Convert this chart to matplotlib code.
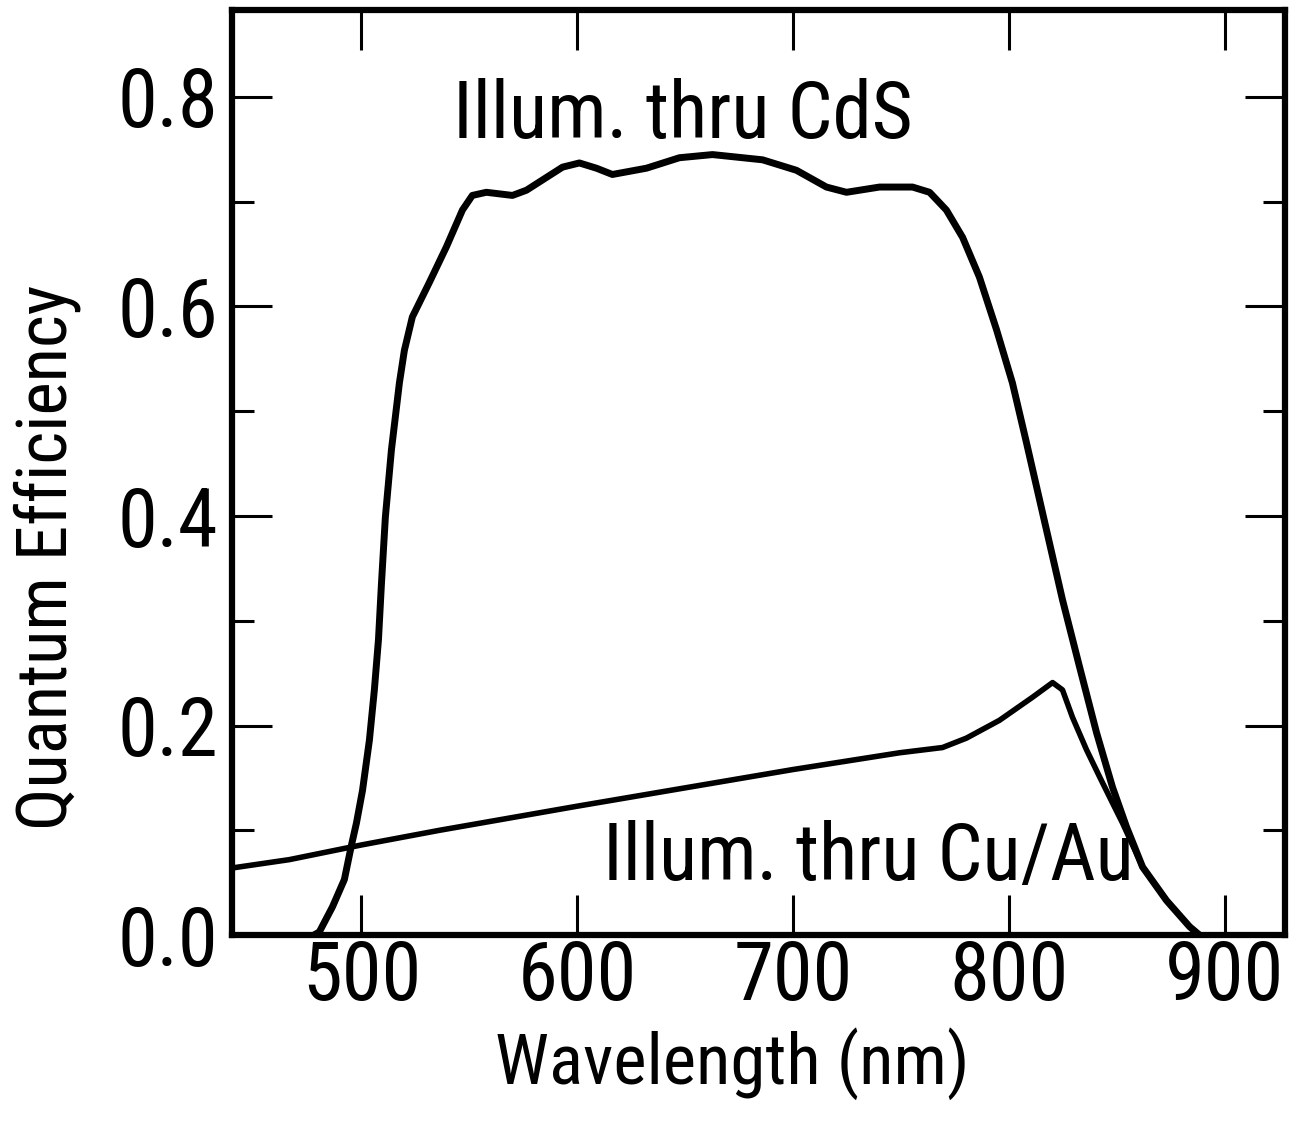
import matplotlib
matplotlib.use("Agg")
import matplotlib.pyplot as plt
from matplotlib import font_manager as fm
from matplotlib.ticker import MultipleLocator, FormatStrFormatter

# pick a condensed sans face, like the one in the scanned figure
available = {f.name for f in fm.fontManager.ttflist}
narrow = [n for n in ['Roboto Condensed', 'Liberation Sans Narrow', 'Archivo Narrow',
                      'PT Sans Narrow', 'Pragati Narrow'] if n in available]
plt.rcParams['font.family'] = narrow[:1] + ['DejaVu Sans']

# Illumination through CdS (thick curve)
cds_wl = [478, 480.5, 486.6, 492.1, 495.4, 497.7, 500.5, 503.7, 506.0, 507.9,
          509.3, 511.1, 513.9, 517.6, 519.9, 523.6, 531.5, 539.4, 546.8, 551.4,
          557.9, 570.0, 576.5, 593.2, 601.0, 608.9, 616.3, 632.1, 647.4, 662.7,
          685.9, 701.6, 715.5, 724.8, 740.1, 755.4, 763.3, 771.1, 778.6, 786.4,
          794.3, 801.7, 808.2, 824.9, 832.8, 840.7, 848.1, 854.6, 862.0, 873.1,
          883.8, 888.4]
cds_qe = [0.0, 0.003, 0.027, 0.053, 0.086, 0.107, 0.138, 0.186, 0.234, 0.282,
          0.336, 0.399, 0.463, 0.527, 0.558, 0.590, 0.623, 0.657, 0.692, 0.706,
          0.709, 0.706, 0.711, 0.733, 0.737, 0.732, 0.726, 0.732, 0.742, 0.745,
          0.740, 0.730, 0.714, 0.709, 0.714, 0.714, 0.709, 0.692, 0.666, 0.628,
          0.578, 0.527, 0.470, 0.320, 0.256, 0.193, 0.141, 0.103, 0.065, 0.033,
          0.008, 0.0]

# Illumination through Cu/Au (thinner curve)
cuau_wl = [440, 466.6, 500, 536.2, 600, 700, 749.4, 769.3, 780.4, 795.7,
           811.0, 820.3, 824.9, 829.5, 836.0, 842.1, 848.1, 852.7, 862.0, 873.1,
           883.8, 888.4]
cuau_qe = [0.064, 0.072, 0.086, 0.100, 0.123, 0.158, 0.174, 0.179, 0.188, 0.205,
           0.227, 0.241, 0.234, 0.208, 0.177, 0.151, 0.126, 0.107, 0.065, 0.033,
           0.008, 0.0]

x_ticks = [500, 600, 700, 800, 900]

fig = plt.figure(figsize=(13.06, 11.24), dpi=100)
ax = fig.add_axes([0.1776, 0.1681, 0.8063, 0.8230])

ax.plot(cds_wl, cds_qe, color="black", linewidth=5, solid_joinstyle="round", solid_capstyle="round")
ax.plot(cuau_wl, cuau_qe, color="black", linewidth=4, solid_joinstyle="round", solid_capstyle="round")

ax.set_xlim(440, 928)
ax.set_ylim(0, 0.883)

ax.set_xticks(x_ticks)
ax.yaxis.set_major_locator(MultipleLocator(0.2))
ax.yaxis.set_minor_locator(MultipleLocator(0.1))
ax.yaxis.set_major_formatter(FormatStrFormatter('%.1f'))

ax.tick_params(axis="both", which="major", direction="in", length=29, width=2.2,
               top=True, right=True, labelsize=58)
ax.tick_params(axis="y", which="minor", direction="in", length=16, width=2.2,
               left=True, right=True)
ax.tick_params(axis="x", which="major", pad=3)
ax.tick_params(axis="y", which="major", pad=10)

for spine in ax.spines.values():
    spine.set_linewidth(4.5)

ax.set_xlabel("Wavelength (nm)", fontsize=51)
ax.set_ylabel("Quantum Efficiency", fontsize=51)
ax.xaxis.set_label_coords(0.475, -0.1)
ax.yaxis.set_label_coords(-0.143, 0.408)

ax.text(649, 0.761, "Illum. thru CdS", fontsize=57, ha="center", va="baseline")
ax.text(735, 0.053, "Illum. thru Cu/Au", fontsize=57, ha="center", va="baseline")

fig.savefig("out.png", dpi=100)
